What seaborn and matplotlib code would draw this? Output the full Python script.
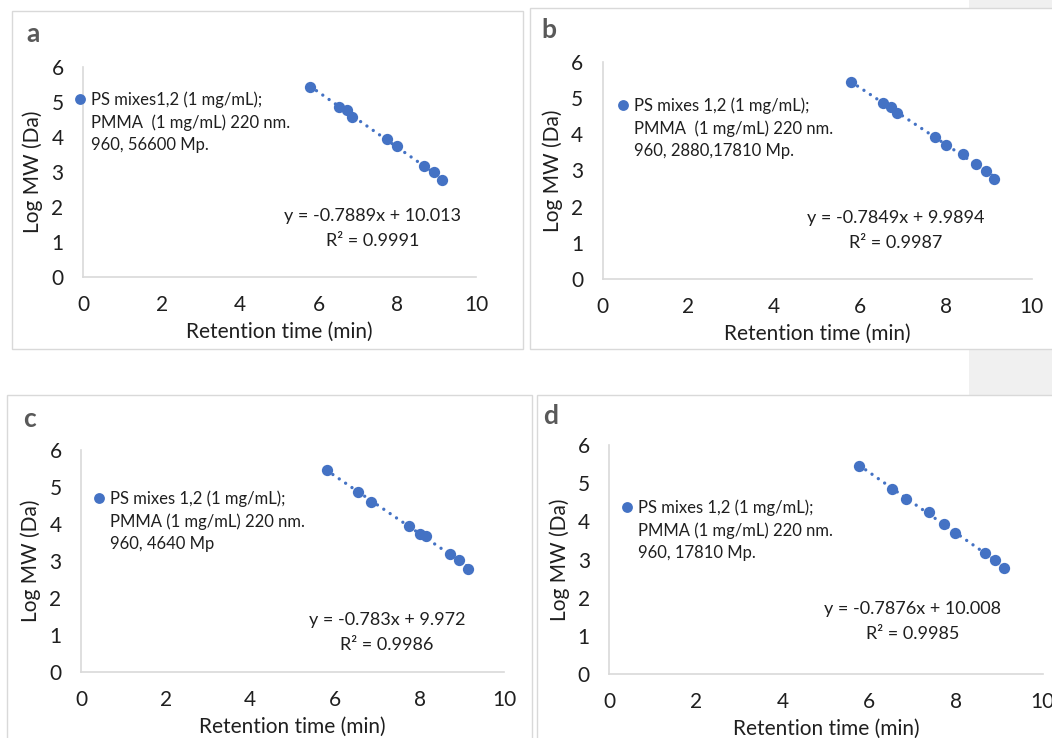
import numpy as np
import matplotlib
matplotlib.use("Agg")
import matplotlib.pyplot as plt
from matplotlib.patches import Rectangle
from matplotlib.lines import Line2D
import seaborn as sns

# --- settings ---
sns.set_style("white")
plt.rcParams["font.family"] = ["Lato", "DejaVu Sans"]

blue = "#4472C4"
txt = "#1f1f1f"
letter_grey = "#595959"
frame_grey = "#D9D9D9"

# --- data ---
rt_a = [5.78, 6.52, 6.71, 6.85, 7.73, 7.98, 8.68, 8.93, 9.13]
logmw_a = [5.43, 4.86, 4.77, 4.57, 3.94, 3.73, 3.18, 2.99, 2.77]

rt_b = [5.79, 6.53, 6.72, 6.85, 7.74, 8.00, 8.39, 8.70, 8.94, 9.13]
logmw_b = [5.44, 4.85, 4.76, 4.58, 3.93, 3.70, 3.46, 3.18, 3.00, 2.77]

rt_c = [5.80, 6.54, 6.85, 7.75, 8.02, 8.14, 8.71, 8.94, 9.14]
logmw_c = [5.45, 4.87, 4.60, 3.95, 3.73, 3.68, 3.19, 3.01, 2.78]

rt_d = [5.77, 6.52, 6.85, 7.37, 7.72, 7.98, 8.68, 8.91, 9.10]
logmw_d = [5.45, 4.86, 4.59, 4.25, 3.94, 3.71, 3.18, 2.99, 2.77]

legend_a = ["PS mixes1,2 (1 mg/mL);", "PMMA  (1 mg/mL) 220 nm.", "960, 56600 Mp."]
legend_b = ["PS mixes 1,2 (1 mg/mL);", "PMMA  (1 mg/mL) 220 nm.", "960, 2880,17810 Mp."]
legend_c = ["PS mixes 1,2 (1 mg/mL);", "PMMA (1 mg/mL) 220 nm.", "960, 4640 Mp"]
legend_d = ["PS mixes 1,2 (1 mg/mL);", "PMMA (1 mg/mL) 220 nm.", "960, 17810 Mp."]

eq_a = ["y = -0.7889x + 10.013", "R² = 0.9991"]
eq_b = ["y = -0.7849x + 9.9894", "R² = 0.9987"]
eq_c = ["y = -0.783x + 9.972", "R² = 0.9986"]
eq_d = ["y = -0.7876x + 10.008", "R² = 0.9985"]

x_ticks = [0, 2, 4, 6, 8, 10]
y_ticks = [0, 1, 2, 3, 4, 5, 6]

# --- layout in pixels (left, top, right, bottom) ---
W, H = 1052, 738
fig = plt.figure(figsize=(W / 100, H / 100), dpi=100)
fig.patch.set_facecolor("white")


def fx(px):
    return px / W


def fy(py):
    return 1 - py / H


def frame(x0, y0, x1, y1, fc="white", ec=frame_grey):
    fig.add_artist(Rectangle((fx(x0), fy(y1)), fx(x1) - fx(x0), fy(y0) - fy(y1),
                             transform=fig.transFigure, facecolor=fc, edgecolor=ec,
                             linewidth=1, zorder=-10))


frame(969, -5, 1060, 395, fc="#F0F0F0", ec="none")
frame(12, 11, 523, 349)
frame(530, 8, 1070, 349)
frame(7, 395, 532, 760)
frame(537, 395, 1070, 760)

panels = [
    dict(letter="a", x=rt_a, y=logmw_a, leg=legend_a, eq=eq_a,
         box=(83, 67, 476, 277), lpos=(26, 34), mk=(80, 102), eqpos=(373, 216)),
    dict(letter="b", x=rt_b, y=logmw_b, leg=legend_b, eq=eq_b,
         box=(602.7, 61.7, 1031.7, 279.3), lpos=(541, 30), mk=(623, 108), eqpos=(896, 218)),
    dict(letter="c", x=rt_c, y=logmw_c, leg=legend_c, eq=eq_c,
         box=(81, 450, 504.3, 671.7), lpos=(23, 419), mk=(99, 501), eqpos=(387, 620)),
    dict(letter="d", x=rt_d, y=logmw_d, leg=legend_d, eq=eq_d,
         box=(609.3, 445, 1042.7, 674.3), lpos=(543, 416), mk=(627, 510), eqpos=(913, 609)),
]

leg_fs = 12
handle_len = 0.8
for p in panels:
    x0, y0, x1, y1 = p["box"]
    ax = fig.add_axes([fx(x0), fy(y1), fx(x1) - fx(x0), fy(y0) - fy(y1)])
    ax.set_facecolor("none")

    sns.regplot(x=np.array(p["x"]), y=np.array(p["y"]), ax=ax, scatter=False, ci=None,
                truncate=True,
                line_kws=dict(color=blue, lw=2.4, ls=(0, (0.01, 2.3)),
                              dash_capstyle="round", zorder=2))
    sns.scatterplot(x=p["x"], y=p["y"], ax=ax, s=66, color=blue, linewidth=0, zorder=3)

    ax.set_xlim(0, 10)
    ax.set_ylim(0, 6)
    ax.set_xticks(x_ticks)
    ax.set_yticks(y_ticks)
    ax.tick_params(length=0, labelsize=15, labelcolor=txt)
    ax.tick_params(axis="x", pad=13)
    ax.tick_params(axis="y", pad=14)
    for s in ["top", "right"]:
        ax.spines[s].set_visible(False)
    for s in ["left", "bottom"]:
        ax.spines[s].set_color(frame_grey)
        ax.spines[s].set_linewidth(1.2)

    wpx, hpx = x1 - x0, y1 - y0
    ax.set_xlabel("Retention time (min)", fontsize=15, color=txt)
    ax.set_ylabel("Log MW (Da)", fontsize=15, color=txt)
    ax.xaxis.set_label_coords(0.5, -55 / hpx)
    ax.xaxis.label.set_va("center")
    ax.yaxis.set_label_coords(-50 / wpx, 0.5)
    ax.yaxis.label.set_va("center")

    # legend: marker beside the first line of a three-line label
    handles = [Line2D([], [], ls="none", marker="o", color=blue, markersize=7.8,
                      markeredgewidth=0),
               Line2D([], [], ls="none"), Line2D([], [], ls="none")]
    mx, my = p["mk"]
    fs_px = leg_fs * 100 / 72
    ax.legend(handles, p["leg"], loc="upper left",
              bbox_to_anchor=(fx(mx - handle_len * fs_px / 2), fy(my - 10.5)),
              bbox_transform=fig.transFigure, frameon=False, borderpad=0,
              borderaxespad=0, handlelength=handle_len, handletextpad=0.25,
              labelspacing=0.36, fontsize=leg_fs, labelcolor=txt)

    ex, ey = p["eqpos"]
    fig.text(fx(ex), fy(ey), p["eq"][0], ha="center", va="center", fontsize=13, color=txt)
    fig.text(fx(ex), fy(ey + 25), p["eq"][1], ha="center", va="center", fontsize=13, color=txt)

    lx, ly = p["lpos"]
    fig.text(fx(lx), fy(ly), p["letter"], ha="left", va="center", fontsize=19,
             fontweight="bold", color=letter_grey)

fig.savefig("out.png", dpi=100)
